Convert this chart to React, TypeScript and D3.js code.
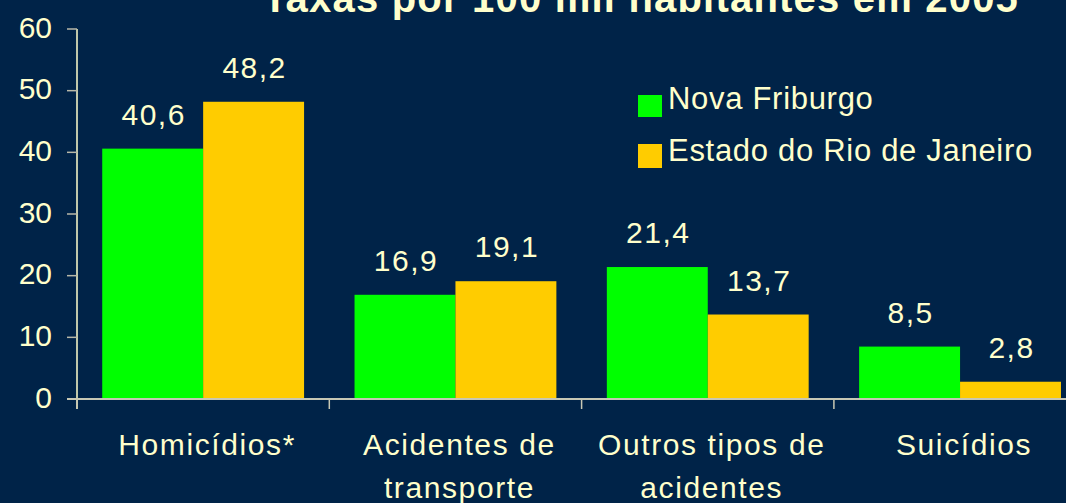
import React from "react";
import * as d3 from "d3";

const categories: string[][] = [
  ["Homicídios*"],
  ["Acidentes de", "transporte"],
  ["Outros tipos de", "acidentes"],
  ["Suicídios"],
];
const seriesNames = ["Nova Friburgo", "Estado do Rio de Janeiro"];
const novaFriburgo = [40.6, 16.9, 21.4, 8.5];
const estadoRJ = [48.2, 19.1, 13.7, 2.8];
const valueLabelsNF = ["40,6", "16,9", "21,4", "8,5"];
const valueLabelsRJ = ["48,2", "19,1", "13,7", "2,8"];
const yTicks = [0, 10, 20, 30, 40, 50, 60];
const title = "Taxas por 100 mil habitantes em 2005";

const W = 1066;
const H = 503;
const BG = "#002348";
const TXT = "#FFFFCC";
const COLORS = ["#00FF00", "#FFCC00"];
const FONT = "'Liberation Sans', Arial, sans-serif";

export default function App() {
  const x0 = 77;
  const step = 252.3;
  const x = d3
    .scaleBand<number>()
    .domain(d3.range(categories.length))
    .range([x0, x0 + step * categories.length])
    .paddingInner(0.2)
    .paddingOuter(0.1);
  const inner = d3
    .scaleBand<number>()
    .domain([0, 1])
    .range([0, x.bandwidth()]);
  const y = d3.scaleLinear().domain([0, 60]).range([399, 29]);
  const series = [novaFriburgo, estadoRJ];
  const labels = [valueLabelsNF, valueLabelsRJ];
  const legendY = [109, 161];
  const legendBox = [
    [95, 22],
    [144, 24],
  ];

  return (
    <svg
      width={W}
      height={H}
      style={{ position: "absolute", left: 0, top: 0, display: "block", background: BG }}
      fontFamily={FONT}
    >
      <rect x={0} y={0} width={W} height={H} fill={BG} />
      <text
        x={641}
        y={12}
        textAnchor="middle"
        fill={TXT}
        fontSize={40}
        fontWeight="bold"
        letterSpacing={1.2}
      >
        {title}
      </text>

      {/* bars */}
      {series.map((vals, s) =>
        vals.map((v, i) => {
          const bx = (x(i) as number) + (inner(s) as number);
          return (
            <g key={`${s}-${i}`}>
              <rect
                x={bx}
                y={y(v)}
                width={inner.bandwidth()}
                height={y(0) - y(v)}
                fill={COLORS[s]}
              />
              <text
                x={bx + inner.bandwidth() / 2 + 1}
                y={y(v) - 24}
                textAnchor="middle"
                fill={TXT}
                fontSize={30}
                letterSpacing={1.5}
              >
                {labels[s][i]}
              </text>
            </g>
          );
        })
      )}

      {/* y axis */}
      <line x1={x0} x2={x0} y1={y(60)} y2={409} stroke={TXT} strokeWidth={1.5} />
      {yTicks.map((t) => (
        <g key={t}>
          <line x1={67} x2={x0} y1={y(t)} y2={y(t)} stroke="#B8B8A8" strokeWidth={1.5} />
          <text x={52} y={y(t) + 8.5} textAnchor="end" fill={TXT} fontSize={30}>
            {t}
          </text>
        </g>
      ))}

      {/* x baseline and ticks */}
      <line x1={67} x2={W} y1={y(0)} y2={y(0)} stroke="#C8C8B4" strokeWidth={2} />
      {d3.range(categories.length + 1).map((i) => (
        <line
          key={i}
          x1={x0 + i * step}
          x2={x0 + i * step}
          y1={y(0)}
          y2={409}
          stroke="#C8C8B4"
          strokeWidth={1.5}
        />
      ))}

      {/* category labels */}
      {categories.map((lines, i) => (
        <text
          key={i}
          x={(x(i) as number) + x.bandwidth() / 2 + 4}
          y={455}
          textAnchor="middle"
          fill={TXT}
          fontSize={30}
          letterSpacing={1.6}
        >
          {lines.map((ln, j) => (
            <tspan key={j} x={(x(i) as number) + x.bandwidth() / 2 + 4} dy={j === 0 ? 0 : 43}>
              {ln}
            </tspan>
          ))}
        </text>
      ))}

      {/* legend */}
      {seriesNames.map((n, s) => (
        <g key={n}>
          <rect x={638} y={legendBox[s][0]} width={24} height={legendBox[s][1]} fill={COLORS[s]} />
          <text x={668} y={legendY[s]} fill={TXT} fontSize={31} letterSpacing={0.7}>
            {n}
          </text>
        </g>
      ))}
    </svg>
  );
}
